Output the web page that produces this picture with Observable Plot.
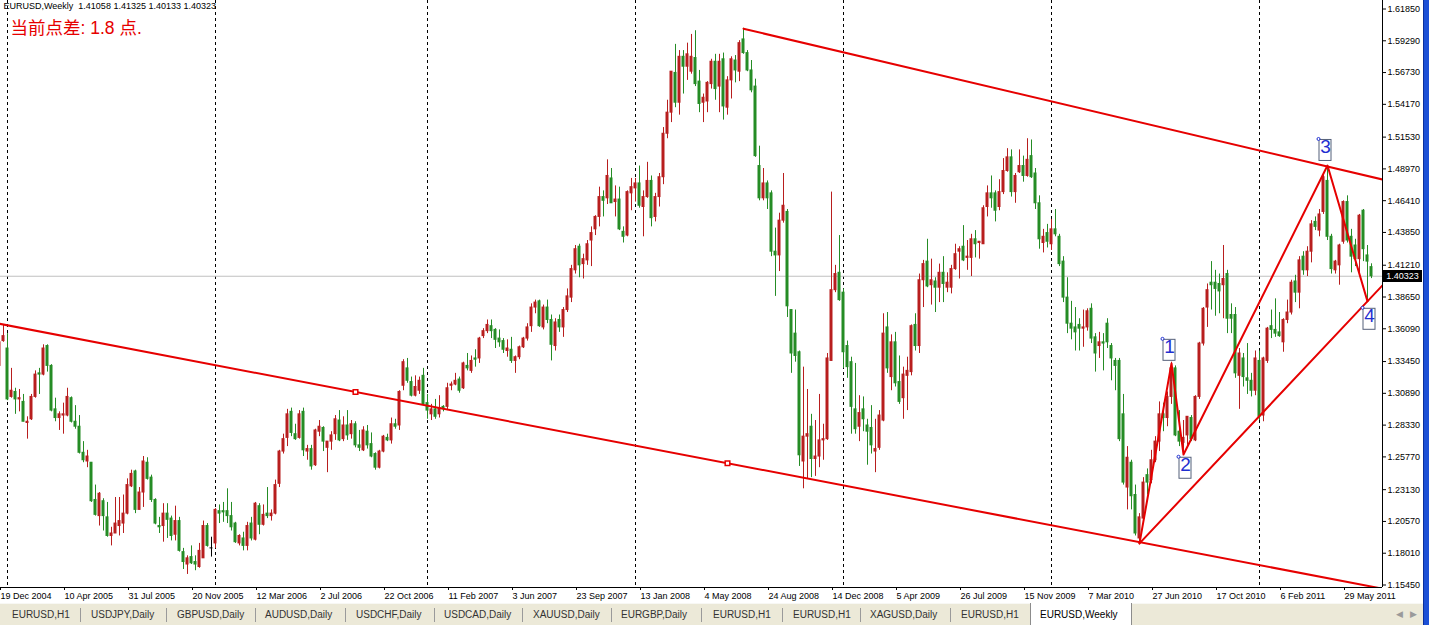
<!DOCTYPE html>
<html>
<head>
<meta charset="utf-8">
<script src="https://cdn.jsdelivr.net/npm/d3@7"></script>
<script src="https://cdn.jsdelivr.net/npm/@observablehq/plot@0.6"></script>
<style>
html,body{margin:0;padding:0;background:#fff;width:1429px;height:625px;overflow:hidden;}
#wrap{position:relative;width:1429px;height:625px;}
#chart{position:absolute;left:0;top:0;}
#tabs{position:absolute;left:0;top:603px;width:1423px;height:22px;background:#ece9d8;border-top:1px solid #f8f8f4;font:10px "Liberation Sans",Arial,sans-serif;color:#333;}
.tab{position:absolute;top:5px;white-space:nowrap;}
.sep{position:absolute;top:4px;width:1px;height:14px;background:#9a9a9a;}
#active{position:absolute;top:-1px;height:22px;background:#fff;border-left:1px solid #8c8c8c;border-right:1px solid #8c8c8c;border-bottom:1px solid #8c8c8c;}
.arrow{position:absolute;top:5px;color:#9a9a9a;font-size:9px;}
#winframe{position:absolute;left:1423px;top:0;width:5px;height:625px;background:#1c50d6;border-left:1px solid #0a2f9c;}
#bid{position:absolute;left:1383px;width:39px;height:12px;background:#000;color:#fff;font:9px "Liberation Sans",Arial,sans-serif;line-height:12px;text-align:center;}
</style>
</head>
<body>
<div id="wrap"><div id="chart"></div></div>
<script>
// ---------------- data ----------------
const symbol = "EURUSD";
const period = "Weekly";
const spreadText = "当前点差: 1.8 点.";

// weekly bars, week index 0 = week of 19 Dec 2004
const open = [
1.331,1.351,1.345,1.306,1.310,1.304,1.302,1.285,1.288,1.306,
1.325,1.324,1.347,1.331,1.296,1.289,1.291,1.291,1.305,1.286,
1.282,1.261,1.254,1.253,1.223,1.210,1.222,1.209,1.194,1.196,
1.202,1.204,1.212,1.234,1.246,1.215,1.229,1.253,1.241,1.223,
1.202,1.202,1.212,1.208,1.195,1.206,1.181,1.171,1.177,1.173,
1.169,1.176,1.202,1.184,1.188,1.214,1.214,1.214,1.210,1.204,
1.188,1.192,1.186,1.204,1.191,1.218,1.203,1.212,1.210,1.212,
1.236,1.262,1.273,1.294,1.276,1.273,1.294,1.262,1.264,1.251,
1.278,1.281,1.265,1.270,1.276,1.287,1.272,1.283,1.276,1.284,
1.267,1.263,1.278,1.268,1.260,1.249,1.262,1.273,1.271,1.284,
1.283,1.315,1.329,1.318,1.307,1.311,1.323,1.301,1.292,1.296,
1.292,1.298,1.298,1.315,1.316,1.320,1.313,1.331,1.327,1.337,
1.337,1.355,1.359,1.363,1.360,1.353,1.351,1.343,1.344,1.335,
1.338,1.346,1.353,1.363,1.378,1.383,1.362,1.378,1.368,1.347,
1.368,1.362,1.376,1.386,1.408,1.427,1.413,1.416,1.432,1.441,
1.451,1.467,1.466,1.482,1.463,1.465,1.439,1.436,1.470,1.474,
1.478,1.459,1.467,1.480,1.451,1.467,1.483,1.518,1.535,1.567,
1.543,1.580,1.572,1.568,1.579,1.560,1.543,1.544,1.558,1.576,
1.556,1.578,1.539,1.561,1.577,1.568,1.594,1.583,1.569,1.556,
1.492,1.466,1.478,1.470,1.423,1.420,1.448,1.455,1.376,1.357,
1.342,1.254,1.274,1.282,1.256,1.258,1.271,1.272,1.335,1.392,
1.406,1.390,1.347,1.334,1.296,1.282,1.296,1.283,1.281,1.262,
1.265,1.287,1.362,1.322,1.350,1.318,1.305,1.323,1.326,1.364,
1.347,1.400,1.415,1.396,1.399,1.394,1.406,1.394,1.394,1.409,
1.423,1.427,1.418,1.418,1.433,1.430,1.429,1.459,1.470,1.470,
1.459,1.471,1.488,1.499,1.471,1.487,1.492,1.484,1.500,1.486,
1.462,1.430,1.438,1.429,1.441,1.435,1.415,1.386,1.365,1.362,
1.364,1.361,1.362,1.377,1.354,1.347,1.350,1.365,1.347,1.335,
1.335,1.292,1.233,1.253,1.227,1.192,1.208,1.243,1.239,1.255,
1.270,1.292,1.289,1.306,1.329,1.278,1.269,1.275,1.289,1.271,
1.306,1.349,1.378,1.398,1.398,1.397,1.396,1.405,1.372,1.372,
1.323,1.337,1.321,1.319,1.311,1.335,1.291,1.335,1.363,1.360,
1.358,1.350,1.368,1.374,1.399,1.390,1.419,1.408,1.423,1.447,
1.440,1.455,1.480,1.435,1.408,1.412,1.431,1.463,1.435,1.428,
1.417,1.456,1.420,1.41058];

const high = [
1.351,1.364,1.357,1.329,1.313,1.312,1.308,1.290,1.308,1.327,
1.329,1.348,1.348,1.332,1.305,1.294,1.301,1.313,1.306,1.299,
1.291,1.270,1.263,1.253,1.235,1.229,1.224,1.221,1.201,1.225,
1.225,1.227,1.240,1.247,1.247,1.233,1.258,1.257,1.243,1.224,
1.209,1.220,1.220,1.210,1.218,1.209,1.184,1.178,1.186,1.178,
1.188,1.206,1.204,1.193,1.216,1.219,1.221,1.232,1.221,1.205,
1.195,1.197,1.205,1.209,1.221,1.220,1.219,1.233,1.215,1.239,
1.263,1.276,1.296,1.297,1.284,1.295,1.297,1.267,1.267,1.280,
1.287,1.282,1.270,1.278,1.291,1.295,1.290,1.295,1.287,1.286,
1.279,1.282,1.283,1.277,1.261,1.263,1.275,1.276,1.289,1.288,
1.311,1.336,1.337,1.322,1.323,1.322,1.329,1.308,1.300,1.304,
1.307,1.299,1.317,1.318,1.325,1.322,1.334,1.341,1.339,1.344,
1.354,1.361,1.368,1.368,1.361,1.360,1.353,1.352,1.354,1.339,
1.347,1.354,1.365,1.381,1.384,1.384,1.380,1.384,1.372,1.369,
1.372,1.378,1.393,1.412,1.428,1.429,1.421,1.432,1.443,1.452,
1.475,1.472,1.497,1.490,1.476,1.475,1.443,1.472,1.482,1.482,
1.492,1.472,1.495,1.484,1.470,1.486,1.523,1.545,1.568,1.590,
1.585,1.585,1.591,1.598,1.601,1.569,1.550,1.560,1.578,1.582,
1.582,1.583,1.564,1.580,1.581,1.593,1.603,1.585,1.577,1.562,
1.508,1.490,1.480,1.472,1.442,1.454,1.486,1.457,1.376,1.376,
1.343,1.330,1.312,1.292,1.287,1.308,1.284,1.341,1.471,1.412,
1.436,1.393,1.351,1.338,1.333,1.307,1.306,1.288,1.299,1.288,
1.295,1.373,1.374,1.356,1.358,1.339,1.330,1.338,1.364,1.373,
1.405,1.416,1.433,1.417,1.402,1.413,1.419,1.406,1.412,1.429,
1.427,1.444,1.432,1.437,1.440,1.431,1.460,1.476,1.484,1.472,
1.481,1.498,1.506,1.505,1.486,1.505,1.500,1.514,1.513,1.490,
1.468,1.441,1.445,1.449,1.457,1.437,1.419,1.402,1.383,1.378,
1.369,1.376,1.377,1.381,1.357,1.358,1.357,1.369,1.349,1.337,
1.337,1.308,1.266,1.255,1.235,1.212,1.241,1.248,1.263,1.274,
1.302,1.301,1.310,1.334,1.331,1.295,1.287,1.290,1.291,1.307,
1.350,1.378,1.397,1.415,1.408,1.405,1.428,1.408,1.381,1.378,
1.345,1.341,1.349,1.325,1.343,1.343,1.338,1.362,1.376,1.385,
1.374,1.369,1.384,1.400,1.404,1.419,1.423,1.427,1.448,1.451,
1.457,1.486,1.492,1.437,1.416,1.429,1.464,1.468,1.441,1.433,
1.453,1.457,1.428,1.41325];

const low = [
1.330,1.350,1.303,1.305,1.292,1.294,1.286,1.272,1.287,1.305,
1.308,1.323,1.326,1.294,1.286,1.279,1.276,1.290,1.285,1.280,
1.260,1.253,1.249,1.221,1.210,1.202,1.198,1.193,1.186,1.196,
1.194,1.196,1.211,1.233,1.212,1.215,1.217,1.239,1.221,1.203,
1.196,1.189,1.192,1.190,1.190,1.181,1.167,1.163,1.171,1.166,
1.168,1.176,1.185,1.177,1.184,1.204,1.205,1.204,1.198,1.188,
1.186,1.182,1.182,1.190,1.190,1.195,1.202,1.208,1.206,1.211,
1.233,1.260,1.266,1.274,1.271,1.272,1.258,1.255,1.247,1.250,
1.274,1.262,1.245,1.263,1.271,1.270,1.270,1.271,1.272,1.265,
1.262,1.262,1.264,1.257,1.247,1.248,1.261,1.270,1.268,1.280,
1.279,1.311,1.317,1.306,1.306,1.308,1.299,1.288,1.287,1.288,
1.289,1.294,1.295,1.311,1.315,1.309,1.312,1.327,1.325,1.330,
1.333,1.353,1.357,1.353,1.345,1.346,1.341,1.338,1.333,1.325,
1.336,1.345,1.351,1.358,1.373,1.362,1.360,1.365,1.335,1.343,
1.358,1.354,1.374,1.382,1.405,1.402,1.401,1.412,1.411,1.436,
1.443,1.451,1.461,1.462,1.451,1.440,1.430,1.435,1.456,1.463,
1.458,1.435,1.466,1.443,1.447,1.459,1.477,1.514,1.527,1.539,
1.533,1.550,1.561,1.566,1.556,1.535,1.527,1.535,1.554,1.545,
1.535,1.529,1.533,1.546,1.559,1.560,1.582,1.568,1.551,1.499,
1.464,1.464,1.457,1.419,1.387,1.407,1.446,1.370,1.325,1.334,
1.250,1.232,1.240,1.241,1.242,1.249,1.255,1.271,1.335,1.390,
1.383,1.329,1.321,1.276,1.276,1.270,1.278,1.251,1.260,1.245,
1.263,1.286,1.325,1.311,1.314,1.300,1.288,1.295,1.323,1.343,
1.341,1.378,1.394,1.380,1.374,1.382,1.382,1.390,1.389,1.408,
1.401,1.415,1.408,1.403,1.418,1.417,1.429,1.451,1.458,1.447,
1.456,1.469,1.487,1.467,1.462,1.486,1.479,1.483,1.482,1.457,
1.425,1.422,1.426,1.424,1.435,1.411,1.382,1.357,1.352,1.343,
1.343,1.346,1.359,1.349,1.326,1.337,1.327,1.345,1.319,1.311,
1.270,1.235,1.215,1.215,1.194,1.188,1.206,1.227,1.236,1.253,
1.262,1.278,1.282,1.300,1.274,1.266,1.260,1.267,1.270,1.270,
1.304,1.347,1.362,1.376,1.371,1.373,1.369,1.357,1.357,1.321,
1.296,1.314,1.308,1.306,1.307,1.287,1.286,1.333,1.353,1.354,
1.354,1.342,1.365,1.372,1.382,1.377,1.404,1.403,1.414,1.440,
1.435,1.453,1.432,1.405,1.405,1.396,1.429,1.430,1.406,1.411,
1.406,1.415,1.383,1.40133];

const close = [
1.350,1.355,1.304,1.311,1.304,1.305,1.286,1.286,1.306,1.324,
1.324,1.345,1.331,1.295,1.289,1.292,1.292,1.306,1.286,1.282,
1.261,1.255,1.258,1.222,1.211,1.228,1.210,1.194,1.196,1.204,
1.206,1.212,1.235,1.244,1.215,1.229,1.254,1.240,1.223,1.204,
1.201,1.212,1.207,1.194,1.206,1.182,1.173,1.176,1.172,1.171,
1.182,1.202,1.186,1.184,1.215,1.212,1.213,1.210,1.201,1.189,
1.194,1.186,1.202,1.192,1.220,1.203,1.211,1.210,1.212,1.235,
1.262,1.272,1.292,1.277,1.272,1.292,1.263,1.264,1.250,1.279,
1.282,1.270,1.270,1.275,1.288,1.271,1.283,1.275,1.284,1.267,
1.265,1.279,1.267,1.258,1.249,1.262,1.274,1.271,1.284,1.282,
1.310,1.334,1.319,1.307,1.314,1.319,1.300,1.295,1.296,1.290,
1.297,1.296,1.313,1.316,1.319,1.311,1.333,1.329,1.335,1.336,
1.353,1.359,1.364,1.359,1.352,1.350,1.344,1.345,1.335,1.338,
1.346,1.353,1.362,1.378,1.382,1.363,1.378,1.368,1.348,1.366,
1.362,1.376,1.387,1.409,1.425,1.412,1.417,1.429,1.438,1.451,
1.467,1.464,1.484,1.462,1.465,1.441,1.435,1.471,1.475,1.478,
1.460,1.467,1.480,1.450,1.467,1.483,1.518,1.535,1.568,1.543,
1.580,1.572,1.582,1.580,1.558,1.542,1.547,1.559,1.576,1.554,
1.576,1.540,1.561,1.578,1.569,1.591,1.583,1.569,1.553,1.500,
1.466,1.478,1.466,1.423,1.420,1.448,1.460,1.379,1.341,1.339,
1.259,1.274,1.276,1.256,1.258,1.271,1.272,1.337,1.392,1.405,
1.384,1.342,1.330,1.298,1.280,1.293,1.288,1.278,1.267,1.264,
1.291,1.357,1.329,1.350,1.317,1.302,1.324,1.327,1.363,1.347,
1.400,1.413,1.395,1.400,1.394,1.406,1.397,1.398,1.409,1.421,
1.425,1.416,1.419,1.433,1.429,1.431,1.458,1.470,1.466,1.456,
1.471,1.488,1.499,1.471,1.484,1.492,1.484,1.497,1.483,1.462,
1.433,1.435,1.431,1.441,1.437,1.413,1.386,1.365,1.361,1.358,
1.361,1.362,1.375,1.353,1.341,1.350,1.349,1.350,1.337,1.331,
1.272,1.237,1.257,1.226,1.196,1.209,1.237,1.237,1.255,1.270,
1.292,1.289,1.306,1.329,1.275,1.270,1.273,1.290,1.272,1.306,
1.349,1.377,1.392,1.396,1.393,1.391,1.401,1.369,1.369,1.325,
1.341,1.322,1.319,1.311,1.337,1.290,1.337,1.361,1.360,1.357,
1.355,1.368,1.374,1.398,1.390,1.416,1.408,1.423,1.445,1.443,
1.453,1.483,1.435,1.409,1.415,1.428,1.463,1.432,1.419,1.417,
1.452,1.425,1.415,1.40323];

// price axis ticks (right side)
const priceTicks = [1.61850,1.59290,1.56730,1.54170,1.51530,1.48970,1.46410,1.43850,1.41210,
  1.38650,1.36090,1.33450,1.30890,1.28330,1.25770,1.23130,1.20570,1.18010,1.15450];

// date axis labels (every 16 weeks)
const dateWeeks = [0,16,32,48,64,80,96,112,128,144,160,176,192,208,224,240,256,272,288,304,320,336];
const dateLabels = ["19 Dec 2004","10 Apr 2005","31 Jul 2005","20 Nov 2005","12 Mar 2006","2 Jul 2006",
  "22 Oct 2006","11 Feb 2007","3 Jun 2007","23 Sep 2007","13 Jan 2008","4 May 2008","24 Aug 2008",
  "14 Dec 2008","5 Apr 2009","26 Jul 2009","15 Nov 2009","7 Mar 2010","27 Jun 2010","17 Oct 2010",
  "6 Feb 2011","29 May 2011"];

// first weekly bar of each year (vertical separators)
const yearStartWeeks = [2,54,107,159,211,263,315];

// trend lines (anchors: week index, price)
const upperLine = [{week:186, price:1.6026},{week:332, price:1.4916}];
const lowerLine = [{week:89, price:1.3100},{week:182, price:1.2526}];
const supportLine = [{week:285, price:1.1880},{week:316, price:1.2941}];
const waveZigzag = [{week:285, price:1.1880},{week:293, price:1.3330},{week:296, price:1.2596},
  {week:332, price:1.4924},{week:342, price:1.3830}];
const waveLabels = [{label:"1", week:291, price:1.352},{label:"2", week:295, price:1.257},
  {label:"3", week:330, price:1.513},{label:"4", week:341, price:1.377}];

// bottom tabs
const tabNames = ["EURUSD,H1","USDJPY,Daily","GBPUSD,Daily","AUDUSD,Daily","USDCHF,Daily","USDCAD,Daily",
  "XAUUSD,Daily","EURGBP,Daily","EURUSD,H1","EURUSD,H1","XAGUSD,Daily","EURUSD,H1","EURUSD,Weekly"];

// ---------------- drawing ----------------
const UP = "#b81e1e", DOWN = "#258c25", TL = "#e60000", BLUE = "#1f2fd0";
const fmt5 = d3.format(".5f");

const candles = close.map((c, i) => ({week: i, open: open[i], high: high[i], low: low[i], close: c}));
const candleColor = d => d.close > d.open ? UP : d.close < d.open ? DOWN : "#000000";

const xDomain = [0.25, 345.75];
const yDomain = [1.15249, 1.62535];

function extend(a, b, w0, w1) {
  const s = (b.price - a.price) / (b.week - a.week);
  return [{week: w0, price: a.price + (w0 - a.week) * s}, {week: w1, price: a.price + (w1 - a.week) * s}];
}
const upperPts = extend(upperLine[0], upperLine[1], upperLine[0].week, xDomain[1] + 2);
const lowerPts = extend(lowerLine[0], lowerLine[1], xDomain[0] - 2, xDomain[1] + 2);
const supportPts = extend(supportLine[0], supportLine[1], supportLine[0].week, xDomain[1] + 2);

const last = candles[candles.length - 1];
const headerText = `${symbol},${period}\u00a0\u00a0${fmt5(last.open)} ${fmt5(last.high)} ${fmt5(last.low)} ${fmt5(last.close)}`;
const labelByWeek = new Map(dateWeeks.map((w, i) => [w, dateLabels[i]]));

const chart = Plot.plot({
  width: 1429, height: 603,
  marginTop: 0, marginLeft: 0, marginRight: 47, marginBottom: 16,
  style: {fontFamily: '"Liberation Sans", Arial, sans-serif', fontSize: "9px", color: "#000", background: "#fff", overflow: "visible"},
  x: {type: "linear", domain: xDomain, axis: null},
  y: {type: "linear", domain: yDomain, axis: null},
  color: {type: "identity"},
  marks: [
    Plot.ruleX(yearStartWeeks, {stroke: "#000", strokeDasharray: "3,3", strokeWidth: 1}),
    Plot.ruleY([last.close], {stroke: "#c0c0c0"}),
    Plot.ruleX(candles, {x: "week", y1: "low", y2: "high", stroke: candleColor, strokeWidth: 1}),
    Plot.rect(candles, {x1: d => d.week - 0.375, x2: d => d.week + 0.375, y1: "open", y2: "close",
      fill: candleColor, insetTop: -0.5, insetBottom: -0.5}),
    Plot.line(lowerPts, {x: "week", y: "price", stroke: TL, strokeWidth: 2, clip: true}),
    Plot.line(upperPts, {x: "week", y: "price", stroke: TL, strokeWidth: 2, clip: true}),
    Plot.line(supportPts, {x: "week", y: "price", stroke: TL, strokeWidth: 2, clip: true}),
    Plot.line(waveZigzag, {x: "week", y: "price", stroke: TL, strokeWidth: 2, clip: true}),
    Plot.dot(lowerLine, {x: "week", y: "price", symbol: "square", r: 2.6, stroke: TL, fill: "#fff", strokeWidth: 1.5}),
    Plot.rect(waveLabels, {x1: "week", x2: "week", y1: "price", y2: "price",
      insetRight: -12, insetBottom: -21, fill: "none", stroke: "#55607a", strokeWidth: 1}),
    Plot.text(waveLabels, {x: "week", y: "price", text: "label", dx: 6, dy: 0, textAnchor: "middle",
      lineAnchor: "top", fontSize: 19, fill: BLUE}),
    Plot.dot(waveLabels, {x: "week", y: "price", r: 1.5, stroke: BLUE, fill: "#fff", strokeWidth: 1, dx: -1, dy: -1}),
    Plot.ruleX([xDomain[1]], {stroke: "#000"}),
    Plot.ruleY([yDomain[0]], {stroke: "#000"}),
    Plot.axisY(priceTicks, {anchor: "right", label: null, tickFormat: fmt5, tickSize: 3, tickPadding: 2, fontSize: 9}),
    Plot.axisX(dateWeeks, {anchor: "bottom", label: null, tickFormat: d => labelByWeek.get(d), tickSize: 3, tickPadding: 2,
      textAnchor: "start", dx: 1, fontSize: 9}),
    Plot.text([headerText], {frameAnchor: "top-left", dx: 3, dy: 2, textAnchor: "start", lineAnchor: "top",
      fontSize: 9, fill: "#000"}),
    Plot.text([spreadText], {frameAnchor: "top-left", dx: 10, dy: 21, textAnchor: "start", lineAnchor: "top",
      fontSize: 17.5, fill: "#e60000", fontFamily: '"Liberation Sans", "Noto Sans CJK SC", sans-serif'})
  ]
});

const wrap = document.getElementById("wrap");
document.getElementById("chart").appendChild(chart);

// bid price box on the price axis
const bid = document.createElement("div");
bid.id = "bid";
bid.textContent = fmt5(last.close);
bid.style.top = (chart.scale("y").apply(last.close) - 6) + "px";
wrap.appendChild(bid);

// tab bar
const tabs = document.createElement("div");
tabs.id = "tabs";
const tabX = [12,91,177,265,356,444,533,621,713,793,870,961,1040];
const sepX = [80,166,255,345,434,522,611,701,782,860,950];
const act = document.createElement("div");
act.id = "active"; act.style.left = "1030px"; act.style.width = "100px";
tabs.appendChild(act);
tabNames.forEach((name, i) => {
  const t = document.createElement("div");
  t.className = "tab"; t.textContent = name; t.style.left = tabX[i] + "px";
  if (i === tabNames.length - 1) t.style.color = "#000";
  tabs.appendChild(t);
});
sepX.forEach(x => {
  const s = document.createElement("div");
  s.className = "sep"; s.style.left = x + "px";
  tabs.appendChild(s);
});
[["\u25C0", 1396], ["\u25B6", 1410]].forEach(([c, x]) => {
  const a = document.createElement("div");
  a.className = "arrow"; a.textContent = c; a.style.left = x + "px";
  tabs.appendChild(a);
});
wrap.appendChild(tabs);

const frame = document.createElement("div");
frame.id = "winframe";
wrap.appendChild(frame);
</script>
</body>
</html>
